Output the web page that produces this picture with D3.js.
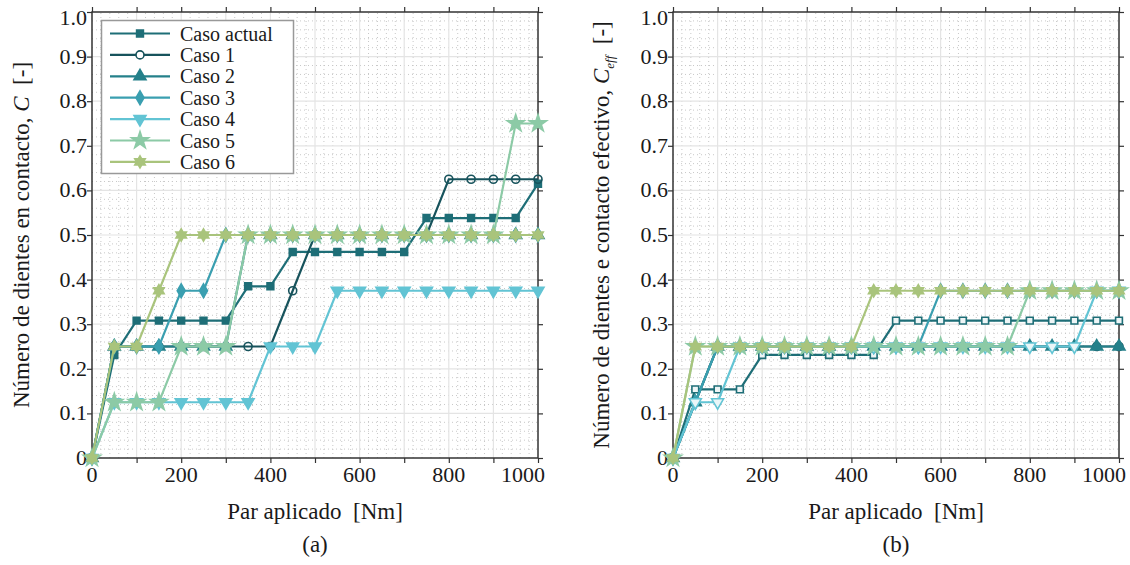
<!DOCTYPE html>
<html>
<head>
<meta charset="utf-8">
<script src="https://cdn.jsdelivr.net/npm/d3@7"></script>
<style>
  body { margin: 0; background: #fff; }
</style>
</head>
<body>
<script>
// torque steps (x) shared by both panels
var torque = [0, 50, 100, 150, 200, 250, 300, 350, 400, 450, 500,
              550, 600, 650, 700, 750, 800, 850, 900, 950, 1000];

var casos = ["Caso actual", "Caso 1", "Caso 2", "Caso 3", "Caso 4", "Caso 5", "Caso 6"];
var colors = ["#1e6e77", "#17535c", "#24808a", "#3a9fb0", "#62c4d4", "#8ccaa6", "#a9c47c"];

// (a) numero de dientes en contacto, C
var cActual = [0, 0.231, 0.308, 0.308, 0.308, 0.308, 0.308, 0.385, 0.385, 0.462, 0.462,
               0.462, 0.462, 0.462, 0.462, 0.538, 0.538, 0.538, 0.538, 0.538, 0.615];
var c1 = [0, 0.25, 0.25, 0.25, 0.25, 0.25, 0.25, 0.25, 0.25, 0.375, 0.5,
          0.5, 0.5, 0.5, 0.5, 0.5, 0.625, 0.625, 0.625, 0.625, 0.625];
var c2 = [0, 0.25, 0.25, 0.25, 0.25, 0.25, 0.25, 0.5, 0.5, 0.5, 0.5,
          0.5, 0.5, 0.5, 0.5, 0.5, 0.5, 0.5, 0.5, 0.5, 0.5];
var c3 = [0, 0.25, 0.25, 0.25, 0.375, 0.375, 0.5, 0.5, 0.5, 0.5, 0.5,
          0.5, 0.5, 0.5, 0.5, 0.5, 0.5, 0.5, 0.5, 0.5, 0.5];
var c4 = [0, 0.125, 0.125, 0.125, 0.125, 0.125, 0.125, 0.125, 0.25, 0.25, 0.25,
          0.375, 0.375, 0.375, 0.375, 0.375, 0.375, 0.375, 0.375, 0.375, 0.375];
var c5 = [0, 0.125, 0.125, 0.125, 0.25, 0.25, 0.25, 0.5, 0.5, 0.5, 0.5,
          0.5, 0.5, 0.5, 0.5, 0.5, 0.5, 0.5, 0.5, 0.75, 0.75];
var c6 = [0, 0.25, 0.25, 0.375, 0.5, 0.5, 0.5, 0.5, 0.5, 0.5, 0.5,
          0.5, 0.5, 0.5, 0.5, 0.5, 0.5, 0.5, 0.5, 0.5, 0.5];

// (b) contacto efectivo, Ceff
var eActual = [0, 0.154, 0.154, 0.154, 0.231, 0.231, 0.231, 0.231, 0.231, 0.231, 0.308,
               0.308, 0.308, 0.308, 0.308, 0.308, 0.308, 0.308, 0.308, 0.308, 0.308];
var e1 = [0, 0.125, 0.25, 0.25, 0.25, 0.25, 0.25, 0.25, 0.25, 0.25, 0.25,
          0.25, 0.25, 0.25, 0.25, 0.25, 0.25, 0.25, 0.25, 0.25, 0.25];
var e2 = [0, 0.125, 0.25, 0.25, 0.25, 0.25, 0.25, 0.25, 0.25, 0.25, 0.25,
          0.25, 0.25, 0.25, 0.25, 0.25, 0.25, 0.25, 0.25, 0.25, 0.25];
var e3 = [0, 0.125, 0.25, 0.25, 0.25, 0.25, 0.25, 0.25, 0.25, 0.25, 0.25,
          0.25, 0.375, 0.375, 0.375, 0.375, 0.375, 0.375, 0.375, 0.375, 0.375];
var e4 = [0, 0.125, 0.125, 0.25, 0.25, 0.25, 0.25, 0.25, 0.25, 0.25, 0.25,
          0.25, 0.25, 0.25, 0.25, 0.25, 0.25, 0.25, 0.25, 0.375, 0.375];
var e5 = [0, 0.25, 0.25, 0.25, 0.25, 0.25, 0.25, 0.25, 0.25, 0.25, 0.25,
          0.25, 0.25, 0.25, 0.25, 0.25, 0.375, 0.375, 0.375, 0.375, 0.375];
var e6 = [0, 0.25, 0.25, 0.25, 0.25, 0.25, 0.25, 0.25, 0.25, 0.375, 0.375,
          0.375, 0.375, 0.375, 0.375, 0.375, 0.375, 0.375, 0.375, 0.375, 0.375];

var xTicks = [0, 200, 400, 600, 800, 1000];
var yTicks = [0, 0.1, 0.2, 0.3, 0.4, 0.5, 0.6, 0.7, 0.8, 0.9, 1.0];

var width = 1130, height = 565;
var serif = "'Liberation Serif', serif";

var svg = d3.select("body").append("svg")
    .attr("width", width)
    .attr("height", height)
    .attr("font-family", serif)
    .style("background", "#fff");

// six point star, not in d3's symbol set
var hexagram = {
  draw: function(ctx, size) {
    var R = Math.sqrt(size) * 0.62, r = R / Math.sqrt(3);
    for (var k = 0; k < 12; k++) {
      var a = -Math.PI / 2 + k * Math.PI / 6, rr = k % 2 ? r : R;
      if (k === 0) ctx.moveTo(rr * Math.cos(a), rr * Math.sin(a));
      else ctx.lineTo(rr * Math.cos(a), rr * Math.sin(a));
    }
    ctx.closePath();
  }
};

var shapes = [
  { type: d3.symbolSquare, size: 46, rot: 0 },
  { type: d3.symbolCircle, size: 50, rot: 0 },
  { type: d3.symbolTriangle, size: 62, rot: 0 },
  { type: d3.symbolDiamond, size: 55, rot: 0 },
  { type: d3.symbolTriangle, size: 62, rot: 180 },
  { type: d3.symbolStar, size: 90, rot: 0 },
  { type: hexagram, size: 95, rot: 0 }
];

function marker(sel, i, fill) {
  sel.append("path")
    .attr("d", d3.symbol().type(shapes[i].type).size(shapes[i].size)())
    .attr("transform", function(d) {
      return "translate(" + d + ")" + (shapes[i].rot ? " rotate(" + shapes[i].rot + ")" : "");
    })
    .attr("fill", fill)
    .attr("stroke", colors[i])
    .attr("stroke-width", 1.6);
}

function label(sel, size) {
  return sel.style("font-family", serif).style("font-size", size + "px").attr("fill", "#1a1a1a");
}

function panel(opt) {
  var x = d3.scaleLinear().domain([0, 1000]).range([opt.x0, opt.x1]);
  var y = d3.scaleLinear().domain([0, 1]).range([opt.y0, opt.y1]);
  var g = svg.append("g");

  // minor dotted grid
  g.append("g").selectAll("line")
    .data(d3.range(0, 1001, 20).filter(function(v) { return v % 100; }))
    .enter().append("line")
    .attr("x1", function(d) { return x(d); }).attr("x2", function(d) { return x(d); })
    .attr("y1", opt.y0).attr("y2", opt.y1)
    .attr("stroke", "#c8c8c8").attr("stroke-dasharray", "1,3");
  g.append("g").selectAll("line")
    .data(d3.range(1, 50).filter(function(v) { return v % 5; }))
    .enter().append("line")
    .attr("y1", function(d) { return y(d / 50); }).attr("y2", function(d) { return y(d / 50); })
    .attr("x1", opt.x0).attr("x2", opt.x1)
    .attr("stroke", "#c8c8c8").attr("stroke-dasharray", "1,3");

  // major grid
  g.append("g").selectAll("line")
    .data(d3.range(100, 1000, 100))
    .enter().append("line")
    .attr("x1", function(d) { return x(d); }).attr("x2", function(d) { return x(d); })
    .attr("y1", opt.y0).attr("y2", opt.y1)
    .attr("stroke", "#e4e4e4").attr("stroke-width", 1.2);
  g.append("g").selectAll("line")
    .data(yTicks.slice(1, 10))
    .enter().append("line")
    .attr("y1", function(d) { return y(d); }).attr("y2", function(d) { return y(d); })
    .attr("x1", opt.x0).attr("x2", opt.x1)
    .attr("stroke", "#e4e4e4").attr("stroke-width", 1.2);

  // axes: inward ticks all round
  var tk = 5;
  var axes = [
    d3.axisBottom(x).tickValues(d3.range(0, 1001, 100)).tickSize(tk),
    d3.axisTop(x).tickValues(d3.range(0, 1001, 100)).tickSize(tk),
    d3.axisLeft(y).tickValues(yTicks).tickSize(tk),
    d3.axisRight(y).tickValues(yTicks).tickSize(tk)
  ];
  var pos = [[0, opt.y1 - tk], [0, opt.y0 + tk], [opt.x1 + tk, 0], [opt.x0 - tk, 0]];
  axes.forEach(function(a, i) {
    var ag = g.append("g")
      .attr("transform", "translate(" + pos[i] + ")")
      .call(a.tickFormat(""));
    ag.select(".domain").remove();
    ag.selectAll("line").attr("stroke", "#333").attr("stroke-width", 1.2);
  });

  g.append("rect")
    .attr("x", opt.x0).attr("y", opt.y1)
    .attr("width", opt.x1 - opt.x0).attr("height", opt.y0 - opt.y1)
    .attr("fill", "none").attr("stroke", "#333").attr("stroke-width", 1.5);

  // tick labels
  label(g.append("g").selectAll("text")
    .data(xTicks)
    .enter().append("text")
    .attr("x", function(d) { return x(d) + (d === 1000 ? -15 : 0); })
    .attr("y", opt.y0 + 24)
    .attr("text-anchor", "middle"), 22)
    .text(function(d) { return d; });
  label(g.append("g").selectAll("text")
    .data(yTicks)
    .enter().append("text")
    .attr("x", opt.x0 - 5)
    .attr("y", function(d) { return y(d) + 7 + (d === 1 ? 6 : 0); })
    .attr("text-anchor", "end"), 22)
    .text(function(d) { return d === 0 ? "0" : d.toFixed(1); });

  // axis labels
  label(g.append("text")
    .attr("x", (opt.x0 + opt.x1) / 2)
    .attr("y", 519)
    .attr("text-anchor", "middle")
    .style("white-space", "pre"), 23)
    .text("Par aplicado  [Nm]");
  label(g.append("text")
    .attr("x", (opt.x0 + opt.x1) / 2)
    .attr("y", 552)
    .attr("text-anchor", "middle"), 23)
    .text(opt.tag);

  var yl = label(g.append("text")
    .attr("transform", "translate(" + opt.ylx + "," + ((opt.y0 + opt.y1) / 2) + ") rotate(-90)")
    .attr("text-anchor", "middle")
    .style("white-space", "pre"), 23);
  yl.append("tspan").text(opt.ylabel);
  yl.append("tspan").style("font-style", "italic").text("C");
  if (opt.sub) yl.append("tspan").attr("dy", 5).style("font-size", "13px").style("font-style", "italic").text(opt.sub);
  yl.append("tspan").attr("dy", opt.sub ? -5 : 0).text("  [-]");

  // series in plotting order
  opt.series.forEach(function(s, i) {
    var pts = torque.map(function(t, j) { return [x(t), y(s[j])]; });
    var sg = g.append("g");
    sg.append("path")
      .attr("d", d3.line()(pts))
      .attr("fill", "none")
      .attr("stroke", colors[i])
      .attr("stroke-width", 2.2);
    marker(sg.selectAll("g").data(pts).enter().append("g"), i, opt.fills[i]);
  });
  return g;
}

panel({
  x0: 92, x1: 538, y0: 458, y1: 12,
  ylx: 29, tag: "(a)",
  ylabel: "Número de dientes en contacto, ",
  series: [cActual, c1, c2, c3, c4, c5, c6],
  fills: [colors[0], "none", colors[2], colors[3], colors[4], colors[5], colors[6]]
});

panel({
  x0: 673, x1: 1119, y0: 458, y1: 12,
  ylx: 609, tag: "(b)",
  ylabel: "Número de dientes e contacto efectivo, ",
  sub: "eff",
  series: [eActual, e1, e2, e3, e4, e5, e6],
  fills: ["#eef5f6", "none", colors[2], colors[3], "#eaf6f8", colors[5], colors[6]]
});

// legend on panel (a)
var leg = svg.append("g");
leg.append("rect")
  .attr("x", 101.5).attr("y", 20.5)
  .attr("width", 192).attr("height", 153)
  .attr("fill", "#fff").attr("stroke", "#999").attr("stroke-width", 1.5);
var rows = leg.selectAll("g.row")
  .data(casos)
  .enter().append("g")
  .attr("class", "row")
  .attr("transform", function(d, i) { return "translate(0," + (33.5 + i * 21.4) + ")"; });
rows.append("line")
  .attr("x1", 110).attr("x2", 170)
  .attr("stroke", function(d, i) { return colors[i]; })
  .attr("stroke-width", 2.2);
rows.each(function(d, i) {
  marker(d3.select(this).append("g").datum([140, 0]), i, i === 1 ? "#fff" : colors[i]);
});
label(rows.append("text")
  .attr("x", 180).attr("y", 7), 20)
  .text(function(d) { return d; });
</script>
</body>
</html>
